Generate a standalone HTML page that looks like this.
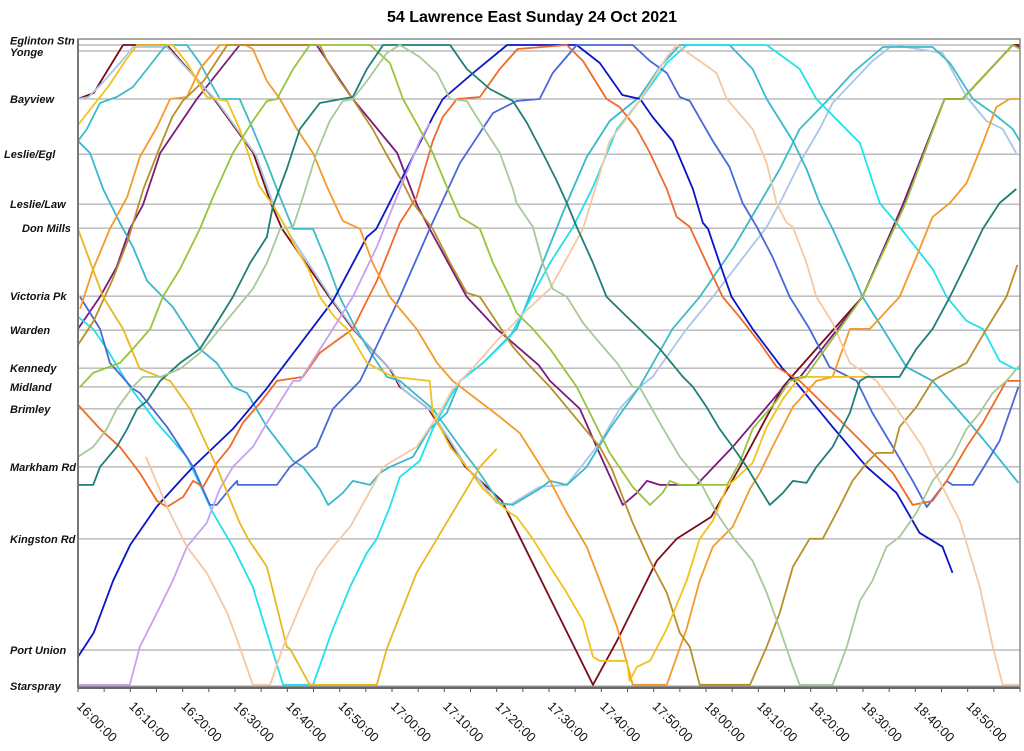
<!DOCTYPE html>
<html><head><meta charset="utf-8"><style>
html,body{margin:0;padding:0;background:#fff;}
svg{display:block;font-family:"Liberation Sans",Arial,sans-serif;}
</style></head><body>
<svg id="chart" width="1024" height="751" viewBox="0 0 1024 751" xmlns="http://www.w3.org/2000/svg">
<text x="532" y="22" text-anchor="middle" font-size="16" font-weight="bold" fill="#000">54 Lawrence East Sunday 24 Oct 2021</text>
<g id="grid"></g>
<g id="ylabels"></g>
<g id="series"></g>
<rect x="78" y="39" width="942" height="648" fill="none" stroke="#8a8a8a" stroke-width="1.5"/>
<line x1="78" y1="39" x2="78" y2="688" stroke="#777" stroke-width="2"/>
<line x1="78" y1="688" x2="1020" y2="688" stroke="#666" stroke-width="2"/>
<g id="xaxis"></g>
</svg>
<script>
const stopNames = ["Eglinton Stn","Yonge","Bayview","Leslie/Egl","Leslie/Law","Don Mills","Victoria Pk","Warden","Kennedy","Midland","Brimley","Markham Rd","Kingston Rd","Port Union","Starspray"];
const stopDist = [0,0.15,1.35,2.73,3.98,4.58,6.28,7.13,8.08,8.55,9.1,10.55,12.35,15.13,16.03];
const stopLabelX = [10,10,10,4,10,22,10,10,10,10,10,10,10,10,10];
const tickLabels = ["16:00:00","16:10:00","16:20:00","16:30:00","16:40:00","16:50:00","17:00:00","17:10:00","17:20:00","17:30:00","17:40:00","17:50:00","18:00:00","18:10:00","18:20:00","18:30:00","18:40:00","18:50:00"];
const tickMinutes = [0,10,20,30,40,50,60,70,80,90,100,110,120,130,140,150,160,170];

const vehicleNames = ["maroon","purple","lightblue","turq2","turq1","cyan","blue","royal","orangered","orange","brown","goldA","goldB","lavender","peach","olive","teal","lgreen"];
const vehicleColors = ["#7a0c1c","#7b1a7b","#a9c6e8","#3cbcc8","#38b8d0","#22e0ee","#0a14c8","#4a68d8","#f06a28","#f59a2a","#b8902a","#f2c21a","#e8b820","#c8a0ee","#f4c8a4","#98c43a","#1e7e78","#a8c898"];

const maroon = [[0,1.35],[3,1.2],[8.6,0],[17,0],[26,1.35],[33.5,2.7],[37,4],[39,4.6],[48,6.3],[52.5,7.1],[59.6,8.1],[61.5,8.55],[67,9.1],[74,10.55],[81,11.4],[84,12.2],[95,15.1],[98.4,16],[103,14.9],[110.6,12.9],[114.4,12.35],[121,11.8],[126.5,10.55],[131.6,9.3],[134.7,8.55],[137,8.2],[149.9,6.3],[157.6,4],[165.6,1.35],[169,1.35],[178.6,0],[180,0]];
const purple = [[0,7.1],[4.2,6.3],[7.4,5.55],[9.9,4.6],[12.4,4],[15.7,2.7],[22.7,1.35],[30.9,0],[45.6,0],[52.5,1.35],[61,2.7],[64.8,4],[67.2,4.6],[74.3,6.3],[80,7.1],[88,8],[90.2,8.4],[95.9,9.1],[99.1,10.05],[104.1,11.5],[106.8,11.2],[108.7,10.9],[111.2,11],[118.2,11],[125.1,10.05],[131.6,9.05],[135.8,8.4],[138,8.3],[149.9,6.3],[157.6,4],[165.6,1.35],[169,1.35],[178.6,0],[180,0.05]];
const lightblue = [[0,1.35],[2,1.3],[5,0.9],[9,0.3],[10.5,0.05],[17,0.05],[26.5,1.4],[34,2.75],[37.5,4.05],[40,4.65],[48.5,6.35],[53,7.15],[60,8.15],[62,8.6],[67.5,9.15],[74.5,10.6],[76.2,10.8],[80,11.45],[82.5,11.5],[88.2,11.05],[93.4,11],[99.7,9.95],[103.5,9.1],[107.3,8.55],[109.8,8.3],[116.3,7.1],[121.3,6.3],[131.6,4.55],[134.7,3.8],[137.9,2.95],[141.7,2.1],[144.2,1.45],[151.8,0.4],[155.7,0],[165.2,0.2],[169.8,1.3],[173.6,1.9],[176.7,2.1],[179.3,2.7]];
const turq2 = [[0,2.4],[1.7,2.1],[4.2,1.45],[7.4,1.3],[10.5,1.05],[13.2,0.6],[16.2,0.1],[17,0],[20.8,0],[23.3,0.45],[27.1,1.35],[30.9,1.35],[33.4,2.1],[36.1,2.95],[38.6,3.8],[41.1,4.6],[44.9,4.6],[47.6,5.45],[50,6.3],[52.5,6.95],[55.2,7.55],[59,8.3],[61.5,8.4],[67.8,9.1],[73,10.05],[76.2,10.6],[80.6,11.45],[83.1,11.5],[88.2,11.1],[90.2,10.9],[93.4,11],[97.2,10.55],[101.6,9.6],[107.3,8.55],[113.6,7.1],[118.8,6.3],[125.1,5.1],[130.3,3.95],[134.1,3.1],[137.9,2.1],[143.1,1.4],[148,0.7],[153.8,0.05],[163.3,0.05],[166.6,0.45],[171,1.35],[174.8,1.7],[178.6,2.1],[180,2.4]];
const turq1 = [[0,2.4],[2.3,2.7],[4.8,3.6],[8,4.45],[10.5,5.05],[13.2,5.9],[16.2,6.3],[18.1,6.55],[23.3,7.6],[26.5,7.95],[29.6,8.55],[32.3,8.7],[36.1,9.55],[41.1,10.4],[43,10.55],[46.2,11.1],[47.8,11.5],[50.6,11.2],[52.5,10.9],[55.8,11],[57.7,10.7],[59.6,10.55],[64,10.3],[67.2,9.6],[70.5,9.2],[73,8.4],[77.4,7.95],[83.8,7.1],[88.8,5.45],[93.4,3.95],[97.2,2.8],[101.6,1.9],[107.3,1.3],[111.2,0.55],[115,0],[124.5,0],[128.9,0.6],[131.6,1.35],[136.6,2.4],[139.2,3.1],[141.7,3.95],[144.2,4.6],[148,5.7],[149.9,6.3],[153.8,7.1],[158.3,8.05],[163.3,8.4],[171,9.55],[174.2,10.05],[179.7,10.95]];
const cyan = [[0,6.8],[2.9,7.1],[5.5,7.6],[9.9,8.55],[15.1,9.45],[20.8,10.3],[25.8,11.7],[29.6,12.55],[33.4,13.55],[36.1,14.7],[39.2,16],[44.9,16],[48.7,14.6],[52,13.55],[55.2,12.7],[57.1,12.35],[59.6,11.55],[61.5,10.8],[65.3,10.4],[67.8,9.6],[71.1,8.8],[73,8.4],[77.4,7.95],[82.5,7.3],[90.2,5.45],[94.6,4.55],[98.4,3.55],[103,2.1],[107.3,1.4],[112.5,0.45],[116.3,0],[131.6,0],[137.9,0.6],[141.1,1.35],[149.4,2.45],[153.2,3.95],[157,4.55],[163.3,5.6],[166,6.3],[169.8,6.9],[172.9,7.1],[176.1,7.9],[179,8.1],[180,8.1]];
const blue = [[0,15.3],[3,14.7],[6.7,13.4],[10,12.5],[15,11.55],[19.5,10.9],[22,10.55],[29.6,9.6],[36,8.6],[37.7,8.3],[48.7,6.4],[55.2,4.8],[57,4.6],[62.8,3.1],[67.8,1.8],[69.7,1.35],[75.5,0.7],[82,0],[95.3,0],[99.7,0.45],[104,1.25],[107.4,1.35],[109.8,1.8],[113.6,2.4],[114.6,2.7],[117.5,3.6],[119.4,4.45],[120.4,4.6],[122.6,5.45],[124.9,6.3],[128.9,7.1],[134.7,8.1],[137.3,8.45],[144.2,9.55],[150.7,10.55],[156.4,11.2],[160.8,12.2],[165.2,12.55],[167.1,13.2]];
const royal = [[0.4,6.3],[4.2,7.1],[6.1,7.95],[10.5,8.6],[11.8,8.7],[17,9.55],[22,10.55],[25.2,11.5],[26.5,11.5],[29,11.1],[30.4,10.9],[30.5,11],[38,11],[40.5,10.55],[45.6,10.05],[48.7,9.1],[53.9,8.4],[61.5,6.3],[67.2,4.6],[73,2.95],[79.3,1.7],[83.8,1.4],[88.2,1.35],[90.7,0.7],[95.3,0],[106,0],[109.3,0.4],[112.5,0.7],[115,1.3],[116.9,1.4],[121.3,2.4],[124.5,3.05],[127,3.95],[129.7,4.55],[132.7,5.3],[136,6.3],[139.8,7.1],[143.6,8.05],[148.8,8.4],[151.8,9.2],[155.7,10.05],[159.5,10.9],[162.2,11.55],[166,10.9],[167.1,11],[171,11],[172.9,10.6],[176.1,9.9],[179.7,8.55]];
const orangered = [[0,9],[4.2,9.6],[8,10.05],[11.8,10.7],[15.1,11.4],[17,11.55],[20.1,11.3],[22,10.9],[23.9,11.05],[26.5,10.45],[29,10.05],[31.5,9.45],[34.8,8.95],[38,8.4],[43,8.3],[46.2,7.7],[52.5,7.1],[57.1,5.9],[61.5,4.45],[64.7,3.8],[67.8,2.4],[69.7,1.8],[72.4,1.35],[76.8,1.3],[80.6,0.6],[84,0.1],[93.4,0],[96.5,0.4],[101,1.35],[103.5,1.55],[106.8,2.1],[109.3,2.7],[112.5,3.6],[114.4,4.3],[116.9,4.55],[120.1,5.45],[123.2,6.3],[126.4,6.8],[130.3,7.45],[133.5,8.05],[137.9,8.4],[144.2,9.2],[150.7,10.05],[155.7,10.7],[159.5,11.5],[163.3,11.4],[166,10.9],[169.8,10.05],[172.9,9.45],[177.4,8.4],[180,8.4]];
const orange = [[0.4,6.6],[2.9,5.6],[6.1,4.6],[9.4,3.8],[11.8,2.8],[15.1,2.05],[17.6,1.35],[20.8,1.3],[23.3,0.6],[27.1,0],[32,0],[33.4,0.1],[36.1,0.9],[38.6,1.35],[41.8,2.1],[44.9,2.7],[47.6,3.55],[50.6,4.4],[53.9,4.6],[56.3,5.45],[59.6,6.3],[64.7,7.1],[68.6,7.95],[71.6,8.4],[80.6,9.3],[84.4,9.7],[90.2,10.9],[93.4,11.7],[97.2,12.55],[99.7,13.4],[103,14.55],[105.4,15.7],[106,16],[112.5,16],[116.3,14.6],[118.8,13.4],[121.3,12.55],[125.1,12.05],[128.4,11.1],[130.3,10.7],[132.7,10.05],[136.6,9.05],[141.1,8.4],[144.2,8.3],[147.5,7.1],[151.3,7.1],[157,6.3],[160.2,5.3],[163.3,4.3],[166.6,3.95],[169.8,3.45],[172.9,2.45],[175.5,1.55],[178,1.35],[180,1.35]];
const brown = [[0,7.5],[3,6.9],[6.5,5.9],[9.5,4.9],[12.5,3.6],[15.5,2.6],[18,1.8],[20,1.4],[24,0.9],[28.5,0],[46.2,0],[47.6,0.4],[50,0.9],[52.5,1.35],[56.3,2.1],[59,2.75],[62.1,3.45],[64,3.95],[67.8,4.6],[71.1,5.45],[74.3,6.2],[76.8,6.3],[80.6,7.05],[83.1,7.55],[85.8,7.95],[90.2,8.55],[99.7,10.05],[102,10.6],[106,11.95],[109.3,12.9],[112.5,13.7],[115,14.7],[116.9,15.05],[118.8,16],[128.4,16],[131.6,15.05],[134.1,14.2],[136.6,13.05],[139.8,12.35],[142.3,12.35],[145.5,11.55],[148,10.9],[150.7,10.45],[152.6,10.2],[155.7,10.2],[157,9.55],[160.2,9.05],[163.3,8.4],[164.6,8.3],[169.8,7.95],[173.6,7.1],[177.4,6.3],[179.5,5.5]];
const goldA = [[0,2.0],[3,1.5],[6,1],[9,0.4],[11.3,0],[18.1,0],[20.8,0.45],[24.6,1.3],[28.5,1.4],[30.9,2.1],[32.5,2.7],[34.5,3.5],[37.2,4],[39.9,4.6],[41.1,4.95],[44,5.6],[46.2,6.3],[49,6.8],[51.4,7.1],[55.2,7.95],[60.2,8.3],[67.2,8.4],[67.8,9.2],[71.1,10.05],[74.3,10.55],[77.4,11.1],[82.5,11.7],[83.8,11.8],[86.9,12.35],[90.2,13.05],[93.4,13.7],[96.5,14.4],[98.4,15.3],[99.7,15.4],[104.9,15.4],[105.4,15.9],[106.8,15.55],[109.3,15.4],[112.5,14.6],[116.3,13.4],[118.8,12.35],[121.3,11.9],[124,11.05],[128.9,10.45],[131.6,9.55],[134.7,8.85],[137.9,8.3],[155,8.3]];
const goldB = [[0,4.6],[4.8,6.3],[8.6,7.1],[11.8,8.1],[17.6,8.4],[21.4,9.1],[26.5,10.55],[30.9,11.95],[32.5,12.35],[36.1,13.05],[39.9,15.05],[40.5,15.1],[44.3,16],[57.1,16],[59,15.1],[64.7,13.2],[68.6,12.35],[76.8,10.55],[80,10.1]];
const lavender = [[0,16],[9.9,16],[11.8,15.05],[15.1,14.2],[18.1,13.4],[20.8,12.55],[24.6,11.95],[27.1,11.1],[29.6,10.55],[33.4,10.05],[36.1,9.45],[39.2,8.8],[41.1,8.4],[42.4,8.4],[48.7,7.1],[52.5,6.3],[57.1,5.05],[61.5,3.6],[65.3,2.4],[67.2,1.95]];
const peach = [[13,10.3],[17,11.55],[20.8,12.55],[24.6,13.2],[28.5,14.2],[30.9,15.05],[33.4,16],[36.7,16],[39.2,15.05],[42.4,14.05],[45.6,13.1],[48.7,12.55],[52,12.05],[55.2,11.3],[58.3,10.55],[64.7,10.05],[69.1,9.2],[71.6,8.6],[76,8],[80,7.4],[86,6.6],[90.2,6.1],[96.5,4.6],[101.6,2.4],[107.3,1.4],[112.5,0.3],[114.4,0],[118.8,0.4],[122,0.7],[124,1.35],[128.9,2.1],[131.6,2.95],[133.5,3.95],[135.4,4.45],[136.6,4.55],[139.2,5.45],[141.1,6.3],[144.2,6.95],[147.5,7.95],[152.6,8.4],[157,9.2],[161.4,10.05],[164.6,10.9],[168.5,11.9],[172.3,13.55],[174.8,15.05],[176.7,16],[180,16]];
const olive = [[0.4,8.55],[2.9,8.2],[8,7.95],[10.5,7.6],[13.8,7.1],[16.2,6.3],[19.5,5.6],[23.3,4.6],[25.8,3.8],[29.6,2.7],[33.4,1.9],[36.1,1.4],[38,1.35],[41.1,0.6],[44.3,0],[55.8,0],[59.6,0.45],[62.1,1.35],[65.3,2.1],[67.8,2.7],[70.5,3.55],[73,4.3],[76.8,4.6],[79.3,5.45],[82.5,6.3],[83.8,6.7],[86.9,7.1],[90.2,7.6],[95.3,8.55],[97.8,9.2],[101.6,10.2],[106,11.05],[109.3,11.5],[111.7,11.2],[113.1,10.9],[115,11],[124,11],[126.4,10.45],[128.9,9.6],[133.5,8.9],[136,8.4],[139,8.3],[149.9,6.3],[158,4],[165.6,1.35],[169,1.35],[178.6,0],[180,0.1]];
const teal = [[0,11],[2.9,11],[4.2,10.55],[7.4,10.05],[9.4,9.6],[11.3,9.1],[13.2,8.9],[15.7,8.4],[19.5,7.95],[23.3,7.6],[26.5,6.95],[29.6,6.3],[32.9,5.45],[36.1,4.8],[37.2,4.05],[39.9,3.1],[42.4,2.1],[46.2,1.45],[52.5,1.3],[55.2,0.6],[58.3,0],[71.1,0],[74.3,0.6],[78.7,1.1],[83.1,1.4],[85.8,1.95],[88.8,2.7],[91.5,3.4],[93.4,3.95],[95.3,4.55],[98.4,5.45],[101,6.3],[104.9,6.8],[107.3,7.1],[111.2,7.6],[115.6,8.3],[117.5,8.55],[120.1,9.05],[122.6,9.6],[125.1,10.05],[127.8,10.55],[130.3,11.1],[132.2,11.5],[134.7,11.2],[136.6,10.9],[139.2,10.95],[141.1,10.55],[144.2,10.05],[147.5,9.2],[149.4,8.4],[150.7,8.3],[157,8.3],[160.2,7.6],[163.3,7.1],[166.6,6.3],[169.8,5.45],[172.9,4.6],[176.1,3.95],[179.3,3.6]];
const lgreen = [[0,10.3],[2.9,10.05],[5.5,9.6],[7.4,9.1],[10.5,8.55],[12.4,8.3],[15.7,8.3],[19.5,8.1],[23.3,7.7],[27.1,7.1],[29.6,6.7],[33.4,6.1],[36.1,5.45],[38.6,4.6],[41.1,4.55],[43,3.8],[45.6,2.7],[48.1,1.9],[50.6,1.4],[52.5,1.35],[55.2,0.9],[59,0.2],[61.5,0],[65.3,0.3],[68.6,0.7],[71.1,1.35],[74.3,1.4],[77.4,2.05],[80.6,2.7],[83.1,3.6],[83.8,3.95],[86.9,4.55],[88.8,5.45],[90.7,6.1],[93.4,6.3],[96.5,6.95],[99.7,7.45],[103,7.95],[106,8.55],[107.3,8.55],[111.2,9.45],[115,10.3],[118.8,10.9],[122,11.7],[125.1,12.3],[128.9,12.9],[131.6,13.7],[134.1,14.6],[136.6,15.55],[137.9,16],[144.2,16],[146.9,15.05],[149.4,13.9],[151.8,13.4],[154.5,12.55],[157,12.3],[160.2,11.7],[163.3,10.9],[167.1,10.3],[169.8,9.6],[172.3,9.2],[174.8,8.7],[177.4,8.4],[180,8]];

const vehicleData = [maroon,purple,lightblue,turq2,turq1,cyan,blue,royal,orangered,orange,brown,goldA,goldB,lavender,peach,olive,teal,lgreen];

const X0 = 78, X1 = 1020, T0 = 0, T1 = 180;
const Y0 = 45, Y1 = 686, D0 = 0, D1 = 16.03;
function xScale(t){ return X0 + (t - T0) / (T1 - T0) * (X1 - X0); }
function yScale(d){ return Y0 + (d - D0) / (D1 - D0) * (Y1 - Y0); }
const NS = "http://www.w3.org/2000/svg";

const grid = document.getElementById("grid");
const ylab = document.getElementById("ylabels");
stopDist.forEach((d, i) => {
  const y = yScale(d);
  const ln = document.createElementNS(NS, "line");
  
  
  ln.setAttribute("x1", X0); ln.setAttribute("x2", X1);
  ln.setAttribute("y1", y); ln.setAttribute("y2", y);
  ln.setAttribute("stroke", "#9a9a9a"); ln.setAttribute("stroke-width", "1");
  grid.appendChild(ln);
  const tx = document.createElementNS(NS, "text");
  
  
  let ty = y + 4;
  if (i === 0) ty = y - 0.5;
  if (i === 1) ty = y + 5;
  tx.setAttribute("x", stopLabelX[i]); tx.setAttribute("y", ty);
  tx.setAttribute("font-size", "11"); tx.setAttribute("font-weight", "bold");
  tx.setAttribute("font-style", "italic"); tx.setAttribute("fill", "#111");
  tx.textContent = stopNames[i];
  ylab.appendChild(tx);
});

const xaxis = document.getElementById("xaxis");
for (let m = 0; m <= 180; m += 5) {
  const x = xScale(m);
  const tk = document.createElementNS(NS, "line");
  
  
  tk.setAttribute("x1", x); tk.setAttribute("x2", x);
  tk.setAttribute("y1", 688); tk.setAttribute("y2", 692);
  tk.setAttribute("stroke", "#555"); tk.setAttribute("stroke-width", "1");
  xaxis.appendChild(tk);
}
tickMinutes.forEach((m, i) => {
  const x = xScale(m);
  const tx = document.createElementNS(NS, "text");
  
  
  tx.setAttribute("x", x - 2); tx.setAttribute("y", 707);
  tx.setAttribute("font-size", "13"); tx.setAttribute("fill", "#111");
  tx.setAttribute("transform", "rotate(45 " + (x - 2) + " 707)");
  tx.textContent = tickLabels[i];
  xaxis.appendChild(tx);
});

const series = document.getElementById("series");
vehicleData.forEach((pts, i) => {
  const p = document.createElementNS(NS, "polyline");
  
  
  p.setAttribute("points", pts.map(q => xScale(q[0]).toFixed(1) + "," + yScale(q[1]).toFixed(1)).join(" "));
  p.setAttribute("fill", "none");
  p.setAttribute("stroke", vehicleColors[i]);
  p.setAttribute("stroke-width", "1.8");
  p.setAttribute("stroke-linejoin", "round");
  series.appendChild(p);
});
</script>
</body></html>
